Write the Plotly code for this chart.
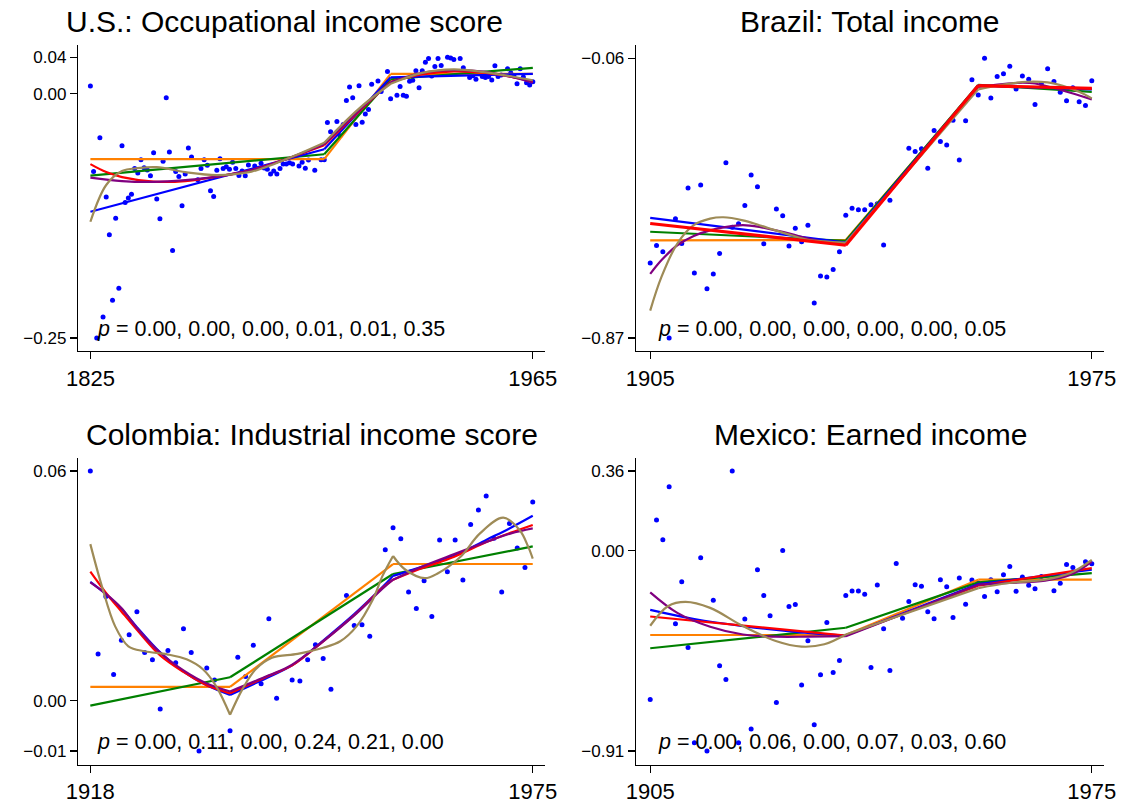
import plotly.graph_objects as go

W, H = 1135, 804

# ------------------------------------------------------------------ data
# U.S.: Occupational income score
US_YEARS = [1825, 1826, 1827, 1828, 1829, 1830, 1831, 1832, 1833, 1834, 1835, 1836, 1837, 1838,
            1839, 1840, 1841, 1842, 1843, 1844, 1845, 1846, 1847, 1848, 1849, 1850, 1851, 1852,
            1853, 1854, 1855, 1856, 1857, 1859, 1860, 1861, 1862, 1863, 1864, 1865, 1866, 1867,
            1868, 1869, 1870, 1871, 1872, 1873, 1874, 1875, 1877, 1879, 1880, 1881, 1882, 1883,
            1884, 1885, 1886, 1887, 1888, 1889, 1891, 1892, 1893, 1894, 1896, 1898, 1899, 1900,
            1901, 1903, 1904, 1905, 1906, 1907, 1908, 1909, 1910, 1911, 1912, 1913, 1914, 1916,
            1917, 1919, 1920, 1922, 1923, 1924, 1925, 1926, 1927, 1928, 1929, 1930, 1931, 1932,
            1933, 1934, 1935, 1936, 1938, 1939, 1940, 1942, 1943, 1945, 1946, 1947, 1949, 1950,
            1951, 1952, 1953, 1954, 1955, 1957, 1958, 1959, 1960, 1961, 1962, 1963, 1964, 1965]
US_VALUES = [0.0077, -0.0785, -0.246, -0.0444, -0.225, -0.104, -0.142, -0.208, -0.1256, -0.196,
             -0.0524, -0.1096, -0.1052, -0.1012, -0.0755, -0.080, -0.0665, -0.0745, -0.0768, -0.0828,
             -0.0595, -0.106, -0.126, -0.0681, -0.004, -0.0588, -0.158, -0.0785, -0.0835, -0.113,
             -0.0808, -0.0548, -0.0638, -0.0868, -0.0755, -0.0665, -0.0721, -0.0979, -0.1035, -0.0772,
             -0.0655, -0.0755, -0.0735, -0.0761, -0.0691, -0.0755, -0.0825, -0.0778, -0.0828, -0.0718,
             -0.0728, -0.0701, -0.0748, -0.0761, -0.0808, -0.0778, -0.0808, -0.0755, -0.0708, -0.0708,
             -0.0695, -0.0708, -0.0728, -0.0691, -0.0752, -0.0668, -0.0772, -0.0665, -0.0665, -0.029,
             -0.0384, -0.028, -0.0424, -0.031, -0.007, 0.0067, -0.004, -0.031, 0.008, -0.0287,
             -0.0204, -0.016, 0.0094, 0.0127, 0.0023, 0.0224, -0.005, -0.0017, 0.0073, -0.0017,
             -0.0027, 0.0124, 0.0134, 0.023, 0.006, 0.023, 0.0317, 0.0354, 0.0177, 0.0274,
             0.0354, 0.0284, 0.0367, 0.036, 0.0344, 0.0354, 0.026, 0.0164, 0.018, 0.0144,
             0.0174, 0.0164, 0.0174, 0.0137, 0.028, 0.0174, 0.0187, 0.025, 0.021, 0.018,
             0.010, 0.025, 0.0167, 0.011, 0.0087, 0.012]
US_KNOTS = [1899, 1920]
US_ORANGE_X = [1825, 1899, 1920, 1965]
US_ORANGE_Y = [-0.066, -0.066, 0.020, 0.020]
US_GREEN_X = [1825, 1899, 1920, 1965]
US_GREEN_Y = [-0.0825, -0.061, 0.0145, 0.026]
US_BLUE_X = [1825, 1899, 1920, 1965]
US_BLUE_Y = [-0.119, -0.056, 0.0165, 0.020]
US_RED_X = [1825, 1830, 1835, 1845, 1855, 1865, 1876, 1886, 1899, 1910, 1920, 1930, 1940, 1950, 1958, 1965]
US_RED_Y = [-0.071, -0.079, -0.084, -0.0885, -0.088, -0.0835, -0.077, -0.067, -0.052, -0.018, 0.012,
            0.0195, 0.0225, 0.021, 0.017, 0.0117]
US_PURPLE_X = [1825, 1835, 1845, 1855, 1865, 1876, 1886, 1899, 1910, 1920, 1930, 1940, 1950, 1958, 1965]
US_PURPLE_Y = [-0.0845, -0.088, -0.0888, -0.087, -0.0835, -0.077, -0.067, -0.051, -0.017, 0.0115,
               0.021, 0.0236, 0.022, 0.017, 0.011]
US_OLIVE_X = [1825, 1830, 1835, 1840, 1846, 1855, 1865, 1876, 1883, 1890, 1899, 1910, 1920, 1930,
              1940, 1950, 1958, 1965]
US_OLIVE_Y = [-0.129, -0.092, -0.078, -0.075, -0.074, -0.079, -0.082, -0.0785, -0.071, -0.062,
              -0.0494, -0.015, 0.010, 0.021, 0.0245, 0.0215, 0.0175, 0.0135]

# Brazil: Total income
BR_YEARS = [1905, 1906, 1907, 1908, 1909, 1910, 1911, 1912, 1913, 1914, 1915, 1916, 1917, 1918,
            1919, 1920, 1921, 1922, 1923, 1925, 1926, 1927, 1928, 1929, 1930, 1931, 1932, 1933,
            1934, 1935, 1936, 1937, 1938, 1939, 1940, 1941, 1942, 1943, 1946, 1947, 1948, 1949,
            1950, 1951, 1952, 1953, 1954, 1955, 1956, 1957, 1958, 1959, 1960, 1961, 1962, 1963,
            1964, 1965, 1966, 1967, 1968, 1969, 1970, 1971, 1972, 1973, 1974, 1975]
BR_VALUES = [-0.653, -0.603, -0.621, -0.870, -0.525, -0.597, -0.436, -0.682, -0.428, -0.728,
             -0.685, -0.626, -0.363, -0.550, -0.540, -0.487, -0.399, -0.433, -0.598, -0.497,
             -0.517, -0.604, -0.553, -0.592, -0.544, -0.769, -0.691, -0.694, -0.672, -0.621,
             -0.515, -0.495, -0.499, -0.499, -0.485, -0.482, -0.601, -0.472, -0.321, -0.331,
             -0.323, -0.379, -0.270, -0.302, -0.312, -0.240, -0.355, -0.242, -0.123, -0.167,
             -0.061, -0.176, -0.114, -0.106, -0.084, -0.150, -0.112, -0.122, -0.195, -0.134,
             -0.091, -0.128, -0.159, -0.184, -0.146, -0.187, -0.198, -0.126]
BR_KNOTS = [1936, 1957]
BR_ORANGE_X = [1905, 1936, 1957, 1975]
BR_ORANGE_Y = [-0.588, -0.587, -0.140, -0.148]
BR_GREEN_X = [1905, 1936, 1957, 1975]
BR_GREEN_Y = [-0.563, -0.589, -0.138, -0.158]
BR_BLUE_X = [1905, 1936, 1957, 1975]
BR_BLUE_Y = [-0.523, -0.594, -0.140, -0.151]
BR_RED_X = [1905, 1936, 1957, 1975]
BR_RED_Y = [-0.539, -0.602, -0.140, -0.148]
BR_PURPLE_X = [1905, 1906.8, 1909.3, 1911.9, 1914.5, 1917.1, 1919.7, 1922.3, 1924.9, 1927.4, 1930,
               1932.6, 1936, 1957, 1963.4, 1966, 1970, 1975]
BR_PURPLE_Y = [-0.685, -0.645, -0.602, -0.575, -0.559, -0.549, -0.544, -0.549, -0.559, -0.570,
               -0.583, -0.592, -0.600, -0.144, -0.132, -0.134, -0.152, -0.180]
BR_OLIVE_X = [1905, 1906.8, 1909.3, 1911.9, 1914.5, 1916.6, 1919.7, 1922.3, 1924.9, 1927.4, 1930,
              1932.6, 1936, 1957, 1960, 1964.7, 1968, 1970.4, 1973, 1975]
BR_OLIVE_Y = [-0.791, -0.693, -0.597, -0.544, -0.525, -0.521, -0.530, -0.544, -0.559, -0.573,
              -0.586, -0.591, -0.595, -0.151, -0.140, -0.129, -0.131, -0.141, -0.158, -0.177]

# Colombia: Industrial income score
CO_YEARS = [1918, 1919, 1920, 1921, 1922, 1923, 1924, 1925, 1926, 1927, 1928, 1929, 1930, 1931,
            1932, 1933, 1934, 1936, 1937, 1938, 1939, 1940, 1941, 1942, 1944, 1945, 1946, 1947,
            1948, 1949, 1951, 1952, 1953, 1954, 1956, 1957, 1958, 1959, 1960, 1961, 1962, 1963,
            1964, 1965, 1966, 1967, 1968, 1969, 1970, 1971, 1972, 1973, 1974, 1975]
CO_VALUES = [0.0600, 0.0122, 0.0272, 0.0068, 0.0158, 0.0172, 0.0232, 0.0126, 0.0107, -0.0022,
             0.0131, 0.0099, 0.0188, 0.0126, -0.0132, 0.0085, 0.0054, -0.0079, 0.0113, 0.0063,
             0.0145, 0.0044, 0.0214, 0.0006, 0.0054, 0.0051, 0.0107, 0.0146, 0.0110, 0.0030,
             0.0275, 0.0196, 0.0198, 0.0168, 0.0394, 0.0452, 0.0423, 0.0284, 0.0241, 0.0313,
             0.0220, 0.0420, 0.0337, 0.0420, 0.0315, 0.0460, 0.0498, 0.0535, 0.0424, 0.0284,
             0.0463, 0.0399, 0.0348, 0.0519]
CO_KNOTS = [1936, 1957]
CO_ORANGE_X = [1918, 1936, 1957, 1975]
CO_ORANGE_Y = [0.0036, 0.0036, 0.0357, 0.0357]
CO_GREEN_X = [1918, 1936, 1957, 1975]
CO_GREEN_Y = [-0.0013, 0.0061, 0.0331, 0.0403]
CO_BLUE_X = [1918, 1920, 1922, 1924, 1927, 1930, 1933, 1936, 1941, 1944, 1948, 1952, 1955.6, 1957,
             1960, 1965, 1969, 1972, 1975]
CO_BLUE_Y = [0.0310, 0.0278, 0.0240, 0.0192, 0.0126, 0.0076, 0.0040, 0.0015, 0.0062, 0.0092,
             0.0157, 0.0226, 0.0296, 0.0326, 0.0345, 0.0380, 0.0420, 0.0450, 0.0483]
CO_RED_X = [1918, 1920, 1922, 1924, 1927, 1930, 1933, 1936, 1941, 1944, 1948, 1952.3, 1955.6, 1957,
            1960.7, 1964.9, 1969.1, 1972.2, 1975]
CO_RED_Y = [0.0337, 0.0282, 0.0233, 0.0185, 0.0118, 0.0075, 0.0040, 0.0019, 0.0065, 0.0092,
            0.0155, 0.0229, 0.0294, 0.0316, 0.0346, 0.0376, 0.0415, 0.0439, 0.0459]
CO_PURPLE_X = [1918, 1920, 1922, 1924, 1927, 1930, 1933, 1936, 1941, 1944, 1948, 1952.3, 1955.6,
               1957, 1960.7, 1964.9, 1969.1, 1972.2, 1975]
CO_PURPLE_Y = [0.0309, 0.0279, 0.0242, 0.0190, 0.0125, 0.0079, 0.0045, 0.0024, 0.0066, 0.0094,
               0.0155, 0.0228, 0.0292, 0.0316, 0.0350, 0.0383, 0.0415, 0.0437, 0.0450]
CO_OLIVE_X = [1918, 1919.5, 1921.2, 1922.9, 1925, 1927.9, 1930.4, 1932.5, 1934.2, 1936, 1937.6,
              1939.3, 1941.4, 1944.7, 1948, 1950.2, 1952.3, 1954.4, 1955.6, 1957, 1958.6, 1961.1,
              1962.8, 1965.7, 1968.2, 1971.2, 1973.3, 1974.4, 1975]
CO_OLIVE_Y = [0.0409, 0.0298, 0.0194, 0.0142, 0.0129, 0.0121, 0.0108, 0.0082, 0.0038, -0.0037,
              0.0030, 0.0082, 0.0112, 0.0122, 0.0138, 0.0155, 0.0194, 0.0264, 0.0324, 0.0378,
              0.0342, 0.0320, 0.0333, 0.0376, 0.0437, 0.0478, 0.0446, 0.0403, 0.0371]

# Mexico: Earned income
MX_YEARS = [1905, 1906, 1907, 1908, 1909, 1910, 1911, 1912, 1913, 1914, 1915, 1916, 1917, 1918,
            1919, 1920, 1921, 1922, 1923, 1924, 1925, 1926, 1927, 1928, 1929, 1930, 1931, 1932,
            1933, 1934, 1935, 1936, 1937, 1938, 1939, 1940, 1941, 1942, 1943, 1944, 1945, 1946,
            1947, 1948, 1949, 1950, 1951, 1952, 1953, 1954, 1955, 1956, 1957, 1958, 1959, 1960,
            1961, 1962, 1963, 1964, 1965, 1966, 1967, 1969, 1970, 1971, 1972, 1974, 1975]
MX_VALUES = [-0.674, 0.138, 0.0495, 0.2895, -0.3315, -0.141, -0.4395, -0.870, -0.033, -0.908,
             -0.225, -0.522, -0.5835, 0.360, -0.870, -0.3105, -0.8085, -0.087, -0.204, -0.2955,
             -0.6885, 0.000, -0.2535, -0.2445, -0.609, -0.408, -0.789, -0.5625, -0.3255, -0.552,
             -0.498, -0.204, -0.183, -0.183, -0.198, -0.5295, -0.156, -0.354, -0.543, -0.0585,
             -0.306, -0.231, -0.1545, -0.162, -0.2775, -0.309, -0.132, -0.1635, -0.303, -0.1245,
             -0.243, -0.1335, -0.147, -0.2085, -0.132, -0.186, -0.1095, -0.072, -0.1845, -0.120,
             -0.1575, -0.1725, -0.117, -0.1815, -0.1485, -0.063, -0.0765, -0.051, -0.060]
MX_KNOTS = [1936, 1957]
MX_ORANGE_X = [1905, 1936, 1957, 1975]
MX_ORANGE_Y = [-0.3825, -0.3825, -0.132, -0.132]
MX_GREEN_X = [1905, 1936, 1957, 1975]
MX_GREEN_Y = [-0.4425, -0.3495, -0.144, -0.102]
MX_BLUE_X = [1905, 1912, 1920, 1928, 1936, 1957, 1975]
MX_BLUE_Y = [-0.2685, -0.310, -0.343, -0.368, -0.385, -0.152, -0.087]
MX_RED_X = [1905, 1936, 1957, 1975]
MX_RED_Y = [-0.2985, -0.385, -0.159, -0.0795]
MX_PURPLE_X = [1905, 1909.3, 1914.5, 1919.7, 1924.9, 1930, 1936, 1957, 1961.9, 1967.6, 1971.6, 1975]
MX_PURPLE_Y = [-0.189, -0.282, -0.345, -0.380, -0.390, -0.390, -0.388, -0.1545, -0.147, -0.1365,
               -0.110, -0.0495]
MX_OLIVE_X = [1905, 1907.8, 1910.6, 1914.5, 1919.7, 1924.9, 1929, 1932.6, 1936, 1957, 1961.9,
              1967.6, 1971.6, 1975]
MX_OLIVE_Y = [-0.3405, -0.252, -0.2325, -0.2595, -0.342, -0.4095, -0.435, -0.4245, -0.380, -0.170,
              -0.147, -0.132, -0.102, -0.042]

# p-value labels and titles
TITLES = ["U.S.: Occupational income score", "Brazil: Total income",
          "Colombia: Industrial income score", "Mexico: Earned income"]
P_LABELS = ["0.00, 0.00, 0.00, 0.01, 0.01, 0.35", "0.00, 0.00, 0.00, 0.00, 0.00, 0.05",
            "0.00, 0.11, 0.00, 0.24, 0.21, 0.00", "0.00, 0.06, 0.00, 0.07, 0.03, 0.60"]

# ------------------------------------------------------------------ style
COL = {"orange": "#FF8000", "green": "#008000", "blue": "#0000FF",
       "red": "#FF0000", "purple": "#800080", "olive": "#9E8B57"}
FONT = "Liberation Sans, Arial, Helvetica, sans-serif"

panels = [
    dict(years=US_YEARS, vals=US_VALUES, knots=US_KNOTS,
         fits=[("orange", US_ORANGE_X, US_ORANGE_Y), ("green", US_GREEN_X, US_GREEN_Y),
               ("blue", US_BLUE_X, US_BLUE_Y), ("red", US_RED_X, US_RED_Y),
               ("purple", US_PURPLE_X, US_PURPLE_Y), ("olive", US_OLIVE_X, US_OLIVE_Y)],
         box=(67.5, 545, 45, 353), xr=(1821.1, 1969.0), yr=(-0.259, 0.0493),
         title_xy=(278, 21.5), p_xy=(85, 331), redw=2.2),
    dict(years=BR_YEARS, vals=BR_VALUES, knots=BR_KNOTS,
         fits=[("orange", BR_ORANGE_X, BR_ORANGE_Y), ("green", BR_GREEN_X, BR_GREEN_Y),
               ("blue", BR_BLUE_X, BR_BLUE_Y), ("purple", BR_PURPLE_X, BR_PURPLE_Y),
               ("olive", BR_OLIVE_X, BR_OLIVE_Y), ("red", BR_RED_X, BR_RED_Y)],
         box=(637.5, 1116, 45, 353), xr=(1902.75, 1977.0), yr=(-0.9074, -0.0218),
         title_xy=(877, 21.5), p_xy=(658, 331), redw=3.2),
    dict(years=CO_YEARS, vals=CO_VALUES, knots=CO_KNOTS,
         fits=[("orange", CO_ORANGE_X, CO_ORANGE_Y), ("green", CO_GREEN_X, CO_GREEN_Y),
               ("blue", CO_BLUE_X, CO_BLUE_Y), ("red", CO_RED_X, CO_RED_Y),
               ("purple", CO_PURPLE_X, CO_PURPLE_Y), ("olive", CO_OLIVE_X, CO_OLIVE_Y)],
         box=(67.5, 545, 460.7, 769.3), xr=(1916.42, 1976.64), yr=(-0.0167, 0.06345),
         title_xy=(306, 437.5), p_xy=(85, 747), redw=2.2),
    dict(years=MX_YEARS, vals=MX_VALUES, knots=MX_KNOTS,
         fits=[("orange", MX_ORANGE_X, MX_ORANGE_Y), ("green", MX_GREEN_X, MX_GREEN_Y),
               ("blue", MX_BLUE_X, MX_BLUE_Y), ("red", MX_RED_X, MX_RED_Y),
               ("purple", MX_PURPLE_X, MX_PURPLE_Y), ("olive", MX_OLIVE_X, MX_OLIVE_Y)],
         box=(637.5, 1116, 460.7, 769.3), xr=(1902.75, 1977.0), yr=(-0.969, 0.42),
         title_xy=(877, 437.5), p_xy=(658, 747), redw=2.2),
]


def fx_(px):
    return px / W


def fy_(py):
    return 1 - py / H


def segments(xs, ys, knots):
    bounds = [xs[0]] + [k for k in knots if xs[0] < k < xs[-1]] + [xs[-1]]
    out = []
    for a, b in zip(bounds[:-1], bounds[1:]):
        sx = [x for x in xs if a <= x <= b]
        sy = [y for x, y in zip(xs, ys) if a <= x <= b]
        if len(sx) >= 2:
            out.append((sx, sy))
    return out


def fmt(v):
    return f"{v:.2f}".replace("-", "\u2212")


fig = go.Figure()
annotations = []
for i, p in enumerate(panels, start=1):
    sfx = "" if i == 1 else str(i)
    xa, ya = "x" + sfx, "y" + sfx
    fig.add_trace(go.Scatter(x=p["years"], y=p["vals"], mode="markers",
                             marker=dict(color="#0000FF", size=5, line=dict(width=0)),
                             xaxis=xa, yaxis=ya, showlegend=False, hoverinfo="skip"))
    for name, fx, fy in p["fits"]:
        w = p["redw"] if name == "red" else 2.2
        for sx, sy in segments(fx, fy, p["knots"]):
            fig.add_trace(go.Scatter(x=sx, y=sy, mode="lines",
                                     line=dict(color=COL[name], width=w, shape="spline",
                                               smoothing=1.0),
                                     xaxis=xa, yaxis=ya, showlegend=False, hoverinfo="skip"))
    x0, x1, y0, y1 = p["box"]
    ymin, ymax = min(p["vals"]), max(p["vals"])
    yt = [ymin] + ([0.0] if ymin < 0 < ymax else []) + [ymax]
    xt = [p["years"][0], p["years"][-1]]
    common = dict(showline=True, linecolor="black", linewidth=1.3, ticks="outside",
                  ticklen=7, tickwidth=1.3, tickcolor="black", showgrid=False,
                  zeroline=False, mirror=False, fixedrange=True)
    fig.layout["xaxis" + sfx] = dict(domain=[fx_(x0), fx_(x1)], range=list(p["xr"]),
                                     anchor=ya, tickvals=xt, ticktext=[str(v) for v in xt],
                                     tickfont=dict(size=22, color="black", family=FONT),
                                     **common)
    fig.layout["yaxis" + sfx] = dict(domain=[fy_(y1), fy_(y0)], range=list(p["yr"]),
                                     anchor=xa, tickvals=yt, ticktext=[fmt(v) for v in yt],
                                     tickfont=dict(size=17, color="black", family=FONT),
                                     **common)
    tx, ty = p["title_xy"]
    annotations.append(dict(text=TITLES[i - 1], x=fx_(tx), y=fy_(ty), xref="paper",
                            yref="paper", xanchor="center", yanchor="middle", showarrow=False,
                            font=dict(size=30, color="black", family=FONT)))
    px_, py_ = p["p_xy"]
    annotations.append(dict(text="<i>p</i> = " + P_LABELS[i - 1], x=fx_(px_), y=fy_(py_),
                            xref="paper", yref="paper", xanchor="left", yanchor="middle",
                            showarrow=False, font=dict(size=21.5, color="black", family=FONT)))

fig.update_layout(width=W, height=H, margin=dict(l=0, r=0, t=0, b=0),
                  paper_bgcolor="white", plot_bgcolor="white", annotations=annotations,
                  font=dict(family=FONT, color="black"), hovermode=False)

fig.write_html("out.html", config={"displayModeBar": False, "staticPlot": True},
               post_script="document.body.style.margin='0';document.body.style.overflow='hidden';")
